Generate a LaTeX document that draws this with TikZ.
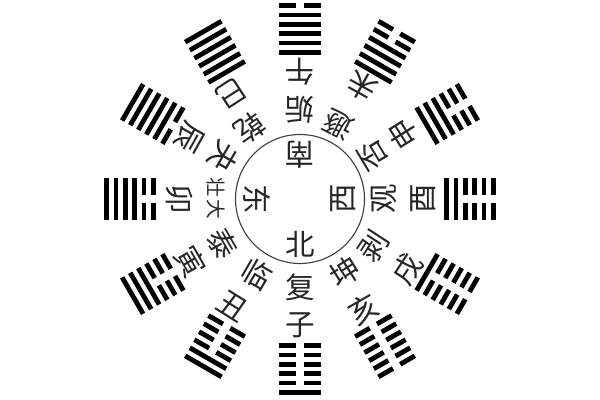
\documentclass[tikz,border=0pt]{standalone}
\usepackage{fontspec}
\newfontfamily\cjk{Noto Sans CJK SC}
\tikzset{every picture/.style={line width=1pt}}

% one hexagram at angle #1; #2 lists the lines from the outer one in (1 = yang, 0 = yin)
\newcommand{\gua}[2]{%
  \begin{scope}[shift={(#1:170)}, rotate=#1]
    \foreach \yao [count=\k] in {#2} {
      \pgfmathsetmacro{\ypos}{(3.5-\k)*9.3}
      \ifnum\yao=1
        \fill (\ypos-2.4,-21) rectangle (\ypos+2.4,21);
      \else
        \fill (\ypos-2.4,-21) rectangle (\ypos+2.4,-4.2);
        \fill (\ypos-2.4,4.2) rectangle (\ypos+2.4,21);
      \fi
    }
  \end{scope}}

\begin{document}
\begin{tikzpicture}
    [x=0.025cm, y=0.025cm,
    zi/.style = {font=\cjk\fontsize{21}{21}\selectfont, inner sep=0pt, text=black!85},
    xiaozi/.style = {font=\cjk\fontsize{14}{14}\selectfont, inner sep=0pt, text=black!85},
    ]
    \useasboundingbox (-300,-201) rectangle (300,199);

    \draw[line width=0.8pt, black!75] (0,0) circle[radius=64.5];

    \node[zi, rotate=180] (nan) at (90:44) {南};
    \node[zi, rotate=90] (xi) at (0:43) {西};
    \node[zi, rotate=0] (bei) at (270:45) {北};
    \node[zi, rotate=270] (dong) at (180:43) {东};

    \node[zi, rotate=360] (fu) at (270:88) {复};
    \node[zi, rotate=330] (lin) at (240:87) {临};
    \node[zi, rotate=300] (tai) at (210:89) {泰};
    \node[xiaozi, rotate=270] (zhuang) at (172:85) {壮};
    \node[xiaozi, rotate=270] (da) at (187:85) {大};
    \node[zi, rotate=240] (guai) at (151:87) {夬};
    \node[zi, rotate=215] (qian) at (125:87) {乾};
    \node[zi, rotate=180] (gou) at (90:89) {姤};
    \node[zi, rotate=153] (dun) at (63:84) {遯};
    \node[zi, rotate=121] (pi) at (31:85) {否};
    \node[zi, rotate=90] (guan) at (0:84) {观};
    \node[zi, rotate=57] (bo) at (-33:87) {剥};
    \node[zi, rotate=32] (kun) at (-58:86) {坤};

    \node[zi, rotate=360] (zi) at (270:126) {子};
    \node[zi, rotate=328] (chou) at (238:127) {丑};
    \node[zi, rotate=300] (yin) at (210:126) {寅};
    \node[zi, rotate=270] (mao) at (180:120) {卯};
    \node[zi, rotate=241] (chen) at (151:127) {辰};
    \node[zi, rotate=213] (si) at (123:126) {巳};
    \node[zi, rotate=180] (wu) at (90:127) {午};
    \node[zi, rotate=151] (wei) at (61:129) {未};
    \node[zi, rotate=122] (shen) at (32:122) {申};
    \node[zi, rotate=90] (you) at (0:123) {酉};
    \node[zi, rotate=57] (xu) at (-33:128) {戌};
    \node[zi, rotate=30] (hai) at (-60:127) {亥};

    \gua{270}{1,0,0,0,0,0}
    \gua{240}{1,1,0,0,0,0}
    \gua{210}{1,1,1,0,0,0}
    \gua{180}{1,1,1,1,0,0}
    \gua{150}{1,1,1,1,1,0}
    \gua{120}{1,1,1,1,1,1}
    \gua{90}{0,1,1,1,1,1}
    \gua{60}{0,0,1,1,1,1}
    \gua{30}{0,0,0,1,1,1}
    \gua{0}{0,0,0,0,1,1}
    \gua{-30}{0,0,0,0,0,1}
    \gua{-60}{0,0,0,0,0,0}
\end{tikzpicture}
\end{document}
